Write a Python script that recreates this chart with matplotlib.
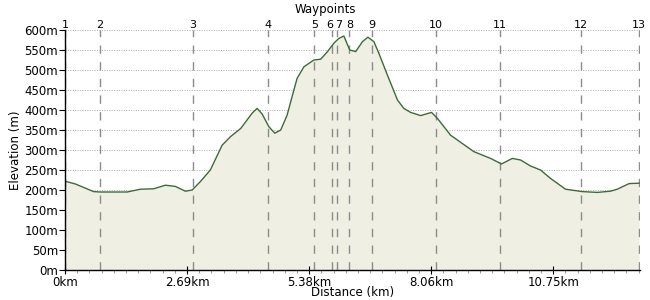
#!/usr/bin/env python3
"""Elevation profile with waypoint markers, saved as out.png."""
import matplotlib

matplotlib.use("Agg")
import matplotlib.pyplot as plt
from matplotlib.ticker import FixedLocator, MultipleLocator

# distance (km) and elevation (m)
dist_km = [0.0, 0.23, 0.63, 0.78, 1.37, 1.66, 1.95, 2.21, 2.43, 2.65, 2.80,
           2.98, 3.20, 3.46, 3.64, 3.87, 4.12, 4.23, 4.34, 4.49, 4.62, 4.75,
           4.89, 5.04, 5.11, 5.26, 5.48, 5.63, 5.78, 5.92, 6.03, 6.14, 6.27,
           6.40, 6.55, 6.67, 6.80, 6.91, 7.10, 7.32, 7.46, 7.61, 7.83, 8.07,
           8.20, 8.49, 9.00, 9.37, 9.61, 9.85, 10.03, 10.25, 10.47, 10.69,
           11.02, 11.39, 11.72, 12.01, 12.16, 12.42, 12.64]
elev_m = [222, 215, 196, 195, 195, 202, 203, 212, 209, 197, 200,
          221, 250, 312, 333, 354, 392, 404, 390, 358, 342, 350,
          387, 450, 479, 508, 525, 527, 546, 567, 579, 585, 550,
          546, 571, 582, 571, 542, 487, 425, 404, 394, 386, 394,
          379, 337, 296, 279, 265, 279, 275, 260, 250, 229,
          202, 196, 194, 197, 202, 216, 217]

waypoint_names = [str(i) for i in range(1, 14)]
waypoint_km = [0.0, 0.77, 2.81, 4.48, 5.49, 5.87, 5.98, 6.26, 6.76,
               8.17, 9.57, 11.36, 12.64]

x_ticks = [0.0, 2.6875, 5.375, 8.0625, 10.75]
x_tick_labels = ["0km", "2.69km", "5.38km", "8.06km", "10.75km"]
y_ticks = list(range(0, 601, 50))


def main() -> None:
    fig = plt.figure(figsize=(6.5, 3.0), dpi=100)
    ax = fig.add_axes([0.1, 0.1, 0.8846, 0.8])
    fs = 8.5

    ax.fill_between(dist_km, elev_m, 0, color="#f0efe4", lw=0)
    ax.plot(dist_km, elev_m, color="#3d6b38", lw=1.0)

    for y in y_ticks[1:]:
        ax.axhline(y, color="#aaaaaa", lw=0.7, ls=(0, (1, 1.5)), zorder=0.5)

    # tiny nudges so the close labels 6 and 7 do not collide
    nudge = {"6": -1.5, "7": 1.5}
    for name, km in zip(waypoint_names, waypoint_km):
        ax.axvline(km, color="#8c8c8c", lw=1.0, ls=(0, (6, 6)), zorder=1.5)
        ax.annotate(name, (km, 600), xytext=(nudge.get(name, 0), 0),
                    textcoords="offset points", ha="center", va="bottom",
                    fontsize=8, annotation_clip=False)
    fig.text(0.5, 0.97, "Waypoints", ha="center", va="center", fontsize=fs)

    ax.set_xlim(0, 12.66)
    ax.set_ylim(0, 600)
    ax.xaxis.set_major_locator(FixedLocator(x_ticks))
    ax.set_xticklabels(x_tick_labels)
    ax.xaxis.set_minor_locator(MultipleLocator(2.6875 / 10))
    ax.set_yticks(y_ticks)
    ax.set_yticklabels([f"{y}m" for y in y_ticks])

    ax.tick_params(axis="both", labelsize=fs, length=4, width=0.8, pad=1,
                   direction="out")
    ax.tick_params(axis="x", which="major", direction="inout", length=6)
    ax.tick_params(axis="x", which="minor", length=2.5, width=0.6,
                   color="#888888")

    for side in ("top", "right"):
        ax.spines[side].set_visible(False)
    for side in ("left", "bottom"):
        ax.spines[side].set_linewidth(1.0)

    ax.set_xlabel("Distance (km)", fontsize=fs, labelpad=-2)
    ax.set_ylabel("Elevation (m)", fontsize=fs, labelpad=2)

    fig.savefig("out.png", dpi=100, facecolor="white")
    plt.close(fig)


if __name__ == "__main__":
    main()
